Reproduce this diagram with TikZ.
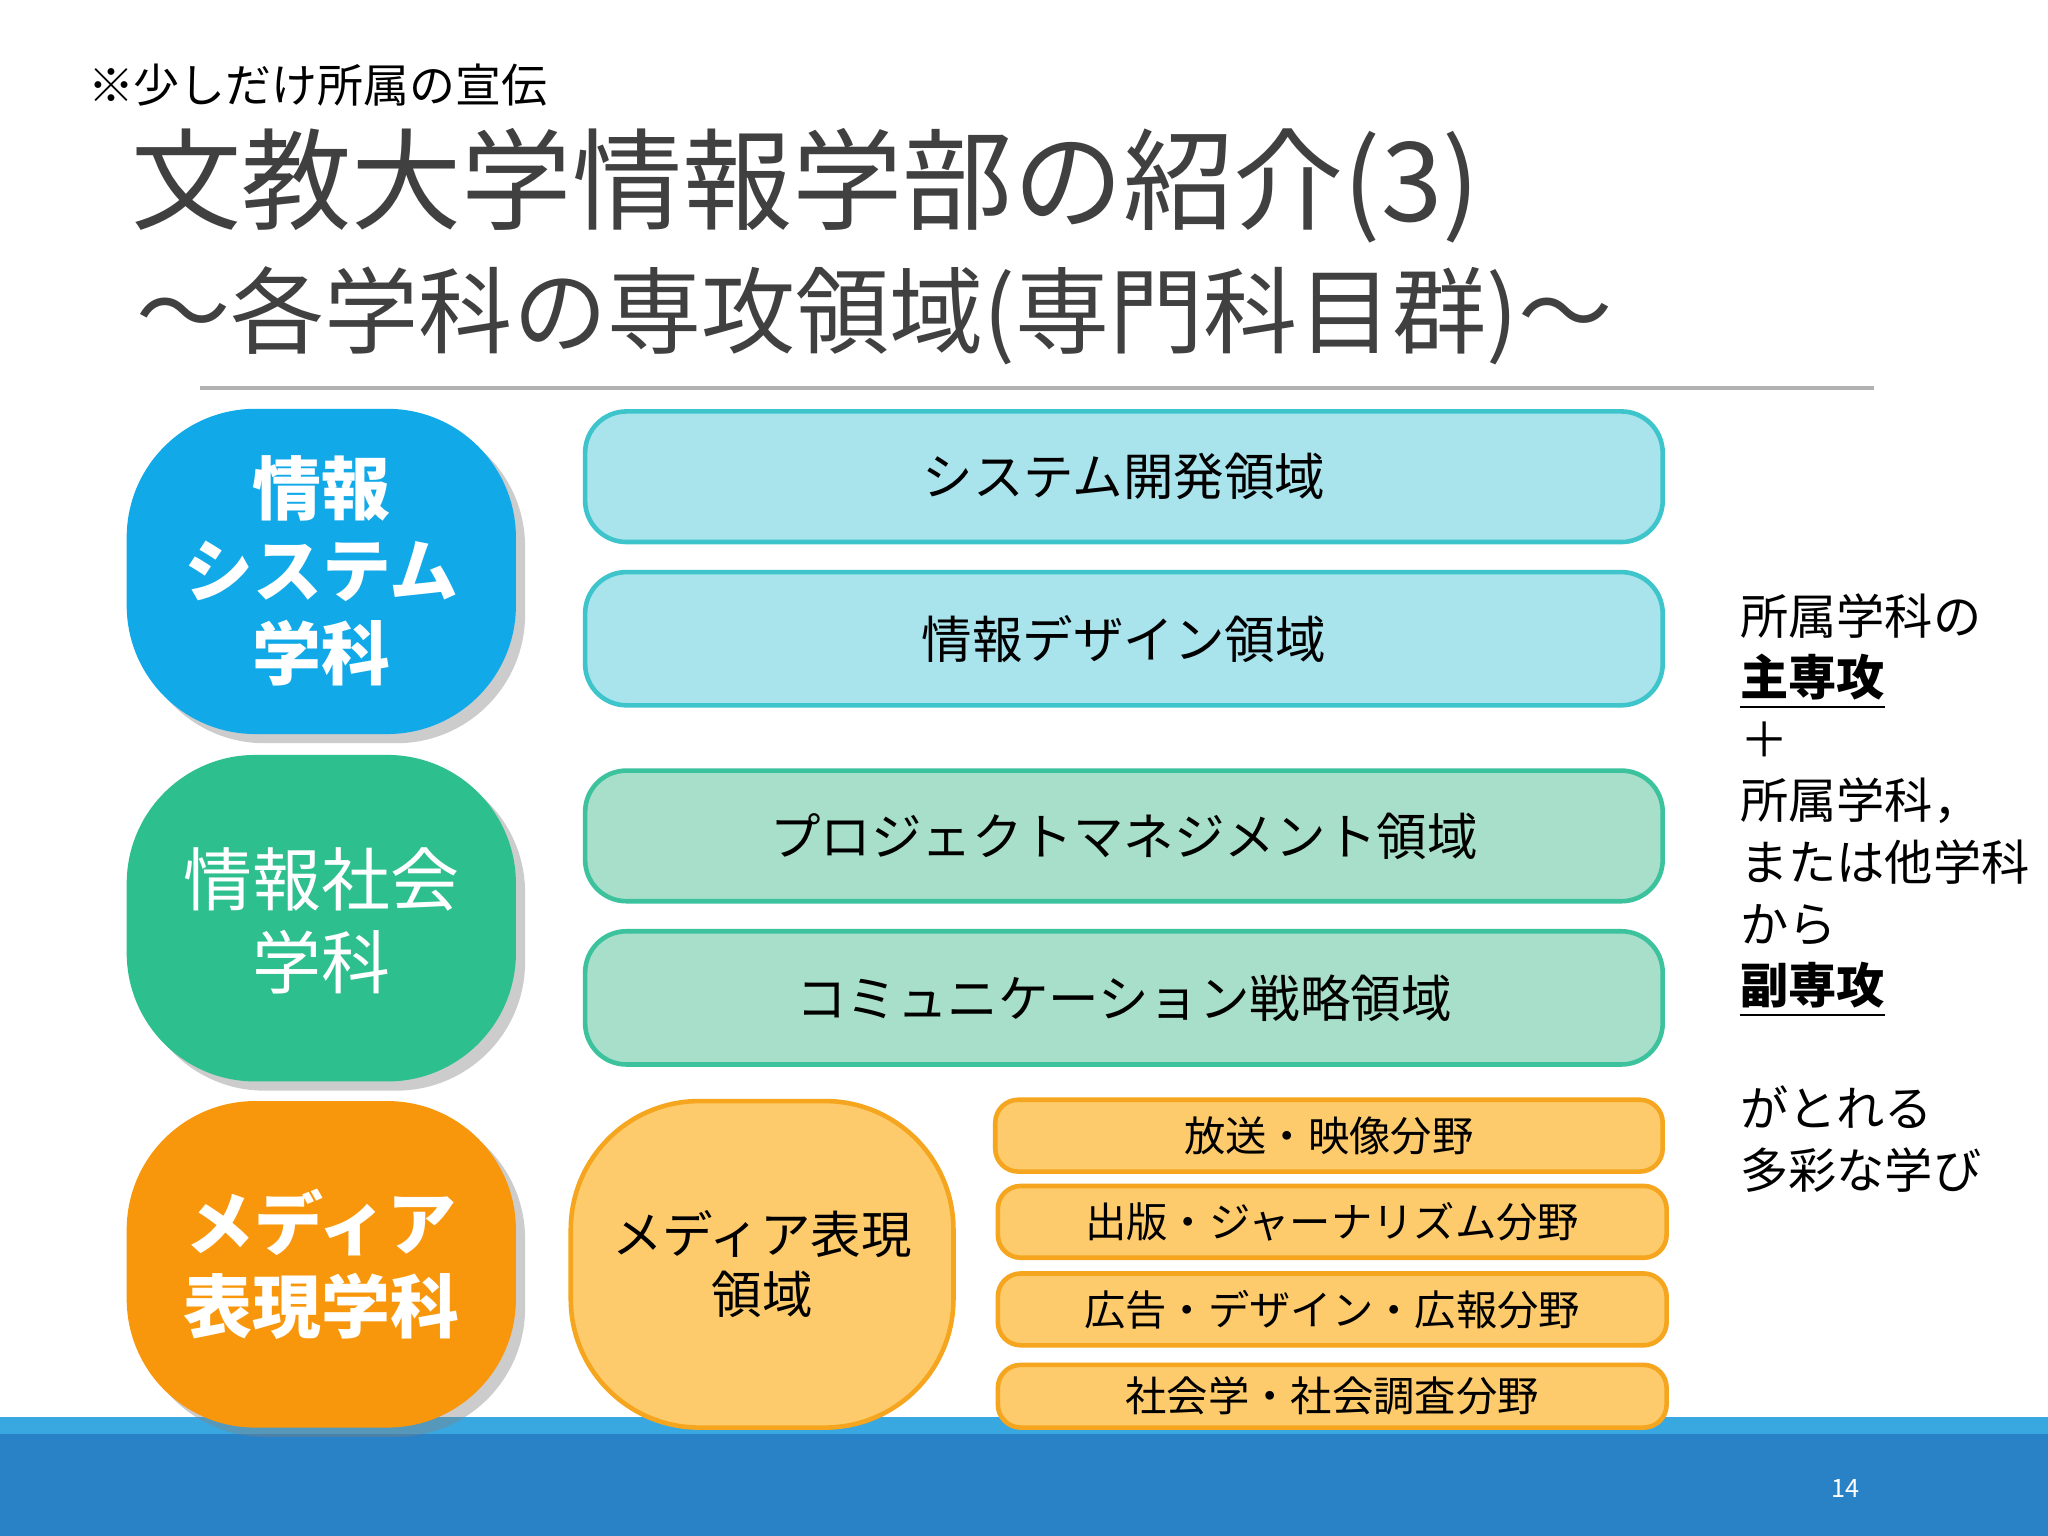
\documentclass[tikz,border=0pt]{standalone}
\usepackage{fontspec}
\setmainfont{Noto Sans CJK JP}
\usetikzlibrary{shadows}
\definecolor{txt}{HTML}{404040}
\definecolor{cblue}{HTML}{12A9E9}
\definecolor{cgreen}{HTML}{2EBF8F}
\definecolor{corange}{HTML}{F8970C}
\definecolor{lcyan}{HTML}{A9E3EC}
\definecolor{bcyan}{HTML}{3EC5CC}
\definecolor{lgreen}{HTML}{A8DFCA}
\definecolor{bgreen}{HTML}{3CC39E}
\definecolor{lorange}{HTML}{FDCB6C}
\definecolor{borange}{HTML}{F5A51E}
\definecolor{barblue}{HTML}{2A82C6}
\definecolor{stripe}{HTML}{3AA8E0}
\tikzset{
 deptbox/.style={rounded corners=28pt, drop shadow={shadow xshift=2pt,shadow yshift=-2pt,opacity=0.4}},
 area/.style={rounded corners=9pt, line width=1pt, font=\fontsize{11}{13}\selectfont, text=black, align=center},
 sub/.style={rounded corners=5pt, line width=1pt, draw=borange, fill=lorange, font=\fontsize{9}{11}\selectfont, text=black},
}
\begin{document}
\begin{tikzpicture}[x=0.01cm,y=-0.01cm]
\useasboundingbox (0,0) rectangle (1568,1176);
\fill[white] (0,0) rectangle (1568,1176);
\fill[barblue] (0,1085) rectangle (1568,1176);
\fill[stripe] (0,1085) rectangle (1568,1098);
\node[white,font=\fontsize{5.5}{6}\selectfont] (pg) at (1413,1140) {14};
\node[anchor=west,text=black,font=\fontsize{10}{12}\selectfont] (note) at (55,65) {※少しだけ所属の宣伝};
\node[anchor=west,text=txt,font=\fontsize{24}{28}\selectfont] (t1) at (88,142) {文教大学情報学部の紹介(3)};
\node[anchor=west,text=txt,font=\fontsize{20.5}{24}\selectfont] (t2) at (92,242) {～各学科の専攻領域(専門科目群)～};
\draw[gray!60,line width=0.8pt] (153,297) -- (1435,297);
% departments
\fill[cblue,deptbox] (97,313) rectangle (395,562);
\fill[cgreen,deptbox] (97,578) rectangle (395,828);
\fill[corange,deptbox] (97,843) rectangle (395,1093);
\node[text=white,font=\bfseries\fontsize{15}{18}\selectfont,align=center] (n1) at (246,437) {情報\\システム\\学科};
\node[text=white,font=\fontsize{15}{18}\selectfont,align=center] (n2) at (246,705) {情報社会\\学科};
\node[text=white,font=\bfseries\fontsize{15}{18}\selectfont,align=center] (n3) at (246,968) {メディア\\表現学科};
% areas
\draw[area,draw=bcyan,fill=lcyan] (448,315) rectangle node (a1) {システム開発領域} (1273,415);
\draw[area,draw=bcyan,fill=lcyan] (448,438) rectangle node (a2) {情報デザイン領域} (1273,540);
\draw[area,draw=bgreen,fill=lgreen] (448,590) rectangle node (a3) {プロジェクトマネジメント領域} (1273,690);
\draw[area,draw=bgreen,fill=lgreen] (448,713) rectangle node (a4) {コミュニケーション戦略領域} (1273,815);
\draw[area,draw=borange,fill=lorange,rounded corners=28pt] (437,843) rectangle node[align=center] (a5) {メディア表現\\領域} (730,1093);
\draw[sub] (762,842) rectangle node (s1) {放送・映像分野} (1273,897);
\draw[sub] (764,908) rectangle node (s2) {出版・ジャーナリズム分野} (1276,963);
\draw[sub] (764,975) rectangle node (s3) {広告・デザイン・広報分野} (1276,1030);
\draw[sub] (764,1045) rectangle node (s4) {社会学・社会調査分野} (1276,1093);
% right text
\node[anchor=north west,text=black,font=\fontsize{10.5}{13.4}\selectfont,align=left] (rt) at (1320,442)
{所属学科の\\\underline{\textbf{主専攻}}\\＋\\所属学科，\\または他学科\\から\\\underline{\textbf{副専攻}}\\\mbox{}\\がとれる\\多彩な学び};
\end{tikzpicture}
\end{document}
